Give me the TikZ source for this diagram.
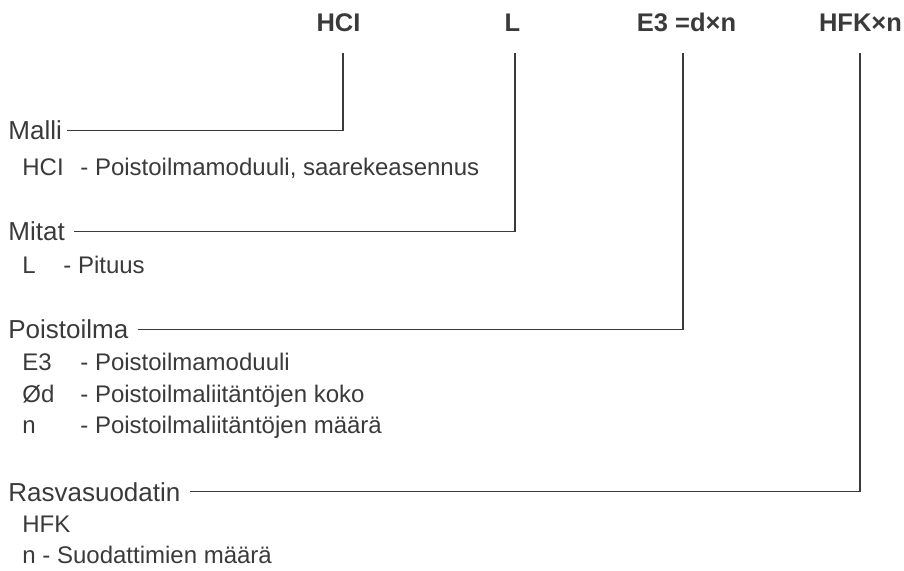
\documentclass[tikz,border=0pt]{standalone}
\usepackage{fontspec}
\setmainfont{Liberation Sans}
\usepackage{tikz}
\usetikzlibrary{positioning,calc}
\definecolor{ink}{HTML}{3A3A3A}

\begin{document}
\begin{tikzpicture}[x=0.5pt,y=-0.5pt,
    grp/.style={inner sep=0pt,anchor=base west,text=ink,font=\fontsize{13}{15}\selectfont},
    item/.style={inner sep=0pt,anchor=base west,text=ink,font=\fontsize{12}{14}\selectfont},
    head/.style={inner sep=0pt,anchor=base,text=ink,font=\fontsize{12.75}{15}\selectfont\bfseries},
    conn/.style={draw=ink,line width=0.7pt,shorten <=4.5pt}]
    \useasboundingbox (0,0) rectangle (904,571);

    % Koodi
    \node[head] (hci) at (338.5,31.5) {HCI};
    \node[head] (len) at (512.5,31.5) {L};
    \node[head] (e3) at (686.5,31.5) {E3 =d×n};
    \node[head] (hfk) at (860.5,31.5) {HFK×n};
    \coordinate (hcitop) at (343,53);
    \coordinate (lentop) at (515,53);
    \coordinate (e3top) at (683,53);
    \coordinate (hfktop) at (860,53);

    % Malli
    \node[grp] (malli) at (8,140) {Malli};
    \node[item] (mallikey) at (22,176) {HCI};
    \node[item] (mallidesc) at (80,176) {- Poistoilmamoduuli, saarekeasennus};
    \draw[conn,shorten <=2.5pt] (malli.east) -| (hcitop);

    % Mitat
    \node[grp] (mitat) at (8,241) {Mitat};
    \node[item] (mitatkey) at (22,274) {L};
    \node[item] (mitatdesc) at (63,274) {- Pituus};
    \draw[conn] (mitat.east) -| (lentop);

    % Poistoilma
    \node[grp] (poisto) at (8,339) {Poistoilma};
    \node[item] (poistokey1) at (22,371) {E3};
    \node[item] (poistodesc1) at (80,371) {- Poistoilmamoduuli};
    \node[item] (poistokey2) at (22,402) {Ød};
    \node[item] (poistodesc2) at (80,402) {- Poistoilmaliitäntöjen koko};
    \node[item] (poistokey3) at (22,433) {n};
    \node[item] (poistodesc3) at (80,433) {- Poistoilmaliitäntöjen määrä};
    \draw[conn] (poisto.east) -| (e3top);

    % Rasvasuodatin
    \node[grp] (rasva) at (8,501) {Rasvasuodatin};
    \node[item] (rasvakey) at (22,532) {HFK};
    \node[item] (rasvadesc) at (22,563) {n - Suodattimien määrä};
    \draw[conn] (rasva.east) -| (hfktop);
\end{tikzpicture}
\end{document}
